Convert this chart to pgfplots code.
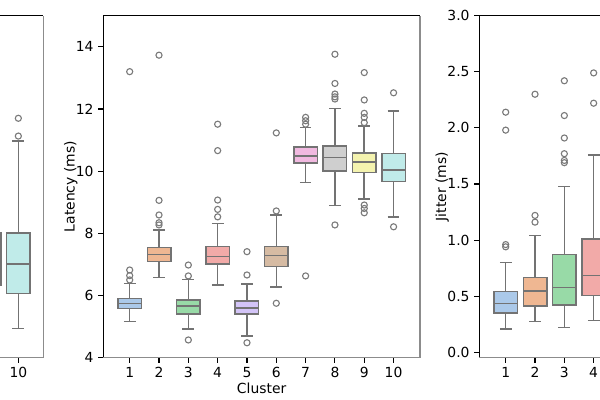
\documentclass[border=0pt]{standalone}
\usepackage{fontspec}
\setmainfont{DejaVu Sans}
\usepackage{pgfplots}
\pgfplotsset{compat=1.18}
\usepgfplotslibrary{statistics}

\definecolor{c1}{HTML}{ABC9E9}
\definecolor{c2}{HTML}{EFB792}
\definecolor{c3}{HTML}{98DAA7}
\definecolor{c4}{HTML}{F2AAA8}
\definecolor{c5}{HTML}{D3C4F7}
\definecolor{c6}{HTML}{D6BBA3}
\definecolor{c7}{HTML}{F1B9E0}
\definecolor{c8}{HTML}{CFCFCF}
\definecolor{c9}{HTML}{F4F3AF}
\definecolor{c10}{HTML}{C0EBE9}
\definecolor{linegray}{HTML}{737373}
\definecolor{fliergray}{HTML}{7A7A7A}
\definecolor{spinegray}{HTML}{8C8C8C}

\newcommand{\bx}[7]{%
\addplot[boxplot prepared={draw direction=y, draw position=#1, lower whisker=#2, lower quartile=#3,
  median=#4, upper quartile=#5, upper whisker=#6, box extend=0.8, whisker extend=0.4},
  draw=linegray, line width=1.1pt, solid, mark=none,
  boxplot/every box/.style={draw=linegray, fill=#7}] coordinates {};}

\newcommand{\spines}{%
\draw[black, line width=0.8pt] (rel axis cs:0,0) -- (rel axis cs:0,1) -- (rel axis cs:1,1);
\draw[spinegray, line width=1.05pt] (rel axis cs:0,0) -- (rel axis cs:1,0) -- (rel axis cs:1,1);}

\pgfplotsset{
  panel/.style={
    scale only axis, width=228pt, height=246.24pt, anchor=south west,
    axis line style={draw=none},
    clip mode=individual,
    tick align=outside, major tick length=3.5pt,
    tick style={line width=0.8pt, color=black},
    xtick pos=left, ytick pos=left,
    xmin=0.1, xmax=10.9, xtick={1,2,...,10},
    /pgf/number format/assume math mode=true,
    ticklabel style={font=\fontsize{10}{12}\selectfont, text=black},
    label style={font=\fontsize{10}{12}\selectfont, text=black},
    ylabel style={yshift=-8pt},
    xlabel style={yshift=3pt},
  },
  fl/.style={only marks, mark=o, mark size=2.2pt, mark options={draw=fliergray, line width=0.8pt}},
}

\begin{document}
\begin{tikzpicture}
\useasboundingbox (0,0) rectangle (432pt,288pt);
\clip (0,0) rectangle (432pt,288pt);

% left panel (mostly outside the view; only its right edge shows)
\begin{axis}[panel, at={(-196.85pt,30.46pt)}, xmin=0.05, xmax=10.85, ymin=0, ymax=10,
  xtick={10}, ytick=\empty]
\bx{9}{0.80}{2.13}{2.90}{3.65}{5.50}{c9}
\bx{10}{0.86}{1.88}{2.74}{3.64}{6.34}{c10}
\addplot[fl] coordinates {(10,6.48) (10,7.00)};
\spines
\end{axis}

% middle panel
\begin{axis}[panel, at={(74.38pt,30.46pt)}, ymin=4, ymax=15, ytick={4,6,...,14},
  xlabel={Cluster}, ylabel={Latency (ms)}]
\bx{1}{5.16}{5.58}{5.74}{5.91}{6.38}{c1}
\bx{2}{6.58}{7.09}{7.32}{7.55}{8.10}{c2}
\bx{3}{4.93}{5.40}{5.66}{5.85}{6.52}{c3}
\bx{4}{6.34}{7.01}{7.25}{7.57}{8.32}{c4}
\bx{5}{4.70}{5.40}{5.60}{5.83}{6.37}{c5}
\bx{6}{6.27}{6.93}{7.28}{7.57}{8.59}{c6}
\bx{7}{9.63}{10.27}{10.48}{10.78}{11.41}{c7}
\bx{8}{8.89}{10.00}{10.44}{10.81}{12.02}{c8}
\bx{9}{9.10}{9.96}{10.29}{10.59}{11.46}{c9}
\bx{10}{8.53}{9.66}{10.03}{10.57}{11.94}{c10}
\addplot[fl] coordinates {
(1,6.50) (1,6.64) (1,6.82) (1,13.20)
(2,8.27) (2,8.34) (2,8.59) (2,9.06) (2,13.73)
(3,6.63) (3,6.98) (3,4.57)
(4,8.53) (4,8.77) (4,9.07) (4,10.66) (4,11.51)
(5,6.66) (5,7.41) (5,4.48)
(6,8.72) (6,11.23) (6,5.75)
(7,11.51) (7,11.62) (7,11.73) (7,6.63)
(8,12.32) (8,12.39) (8,12.48) (8,12.82) (8,13.76) (8,8.27)
(9,11.56) (9,11.73) (9,11.86) (9,12.29) (9,13.17) (9,8.91) (9,8.80) (9,8.66)
(10,12.52) (10,8.21)
};
\spines
\end{axis}

% right panel (partly outside the view)
\begin{axis}[panel, at={(345.10pt,30.46pt)}, ymin=-0.048, ymax=3.0, ytick={0,0.5,...,3.0},
  xtick={1,2,3,4},
  yticklabel style={/pgf/number format/.cd, fixed, fixed zerofill, precision=1},
  ylabel={Jitter (ms)}]
\bx{1}{0.21}{0.348}{0.436}{0.54}{0.80}{c1}
\bx{2}{0.273}{0.413}{0.547}{0.668}{1.04}{c2}
\bx{3}{0.22}{0.42}{0.576}{0.873}{1.476}{c3}
\bx{4}{0.285}{0.508}{0.683}{1.01}{1.76}{c4}
\addplot[fl] coordinates {
(1,0.94) (1,0.96) (1,1.98) (1,2.14)
(2,1.16) (2,1.22) (2,2.30)
(3,1.69) (3,1.71) (3,1.77) (3,1.91) (3,2.11) (3,2.42)
(4,2.22) (4,2.49)
};
\spines
\end{axis}
\end{tikzpicture}
\end{document}
